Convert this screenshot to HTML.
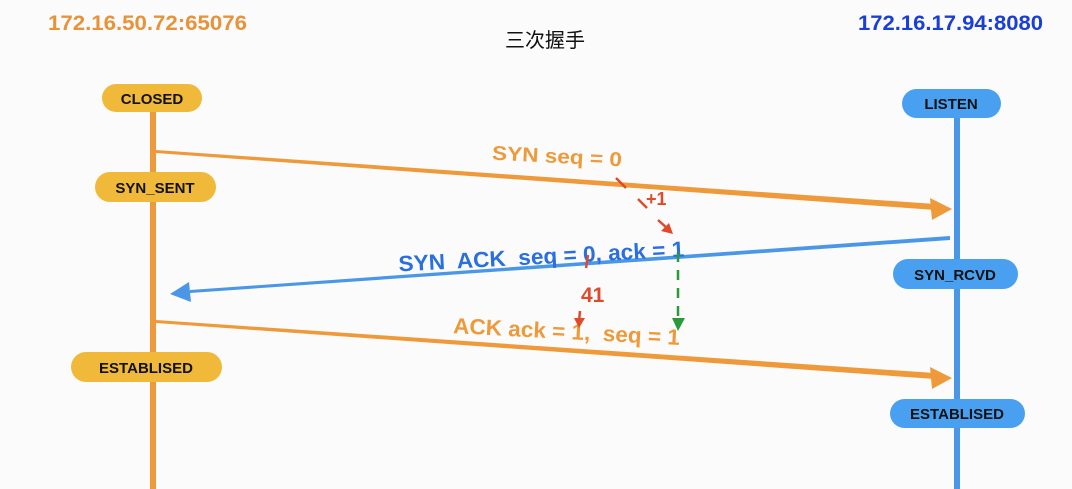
<!DOCTYPE html>
<html><head><meta charset="utf-8"><style>
html,body{margin:0;padding:0;background:#fbfbfb;width:1072px;height:489px;overflow:hidden}
svg{display:block}
text{font-family:"Liberation Sans","Noto Sans CJK SC",sans-serif;font-weight:bold}
</style></head><body>
<svg width="1072" height="489" viewBox="0 0 1072 489">
<rect width="1072" height="489" fill="#fbfbfb"/>
<text x="48" y="30" font-size="21" fill="#e8923a" font-weight="normal" textLength="199" lengthAdjust="spacingAndGlyphs">172.16.50.72:65076</text>
<text x="858" y="30" font-size="21" fill="#1a3fd8" font-weight="normal" textLength="185" lengthAdjust="spacingAndGlyphs">172.16.17.94:8080</text>
<text x="505" y="47" font-size="20" fill="#111" style="font-family:'Noto Sans CJK SC',sans-serif;font-weight:normal">三次握手</text>
<rect x="150" y="112" width="6" height="377" fill="#ee9a3a"/>
<rect x="954" y="116" width="6" height="373" fill="#4a97e8"/>
<polygon points="156,150 935,204 935,210 156,153" fill="#ee9a3a"/>
<polygon points="930,198 952,209 932,220" fill="#ee9a3a"/>
<polygon points="950,236 190,290 190,293 950,240" fill="#4a97e8"/>
<polygon points="170,294 189,282 191,302" fill="#4a97e8"/>
<polygon points="156,320 935,373 935,379 156,323" fill="#ee9a3a"/>
<polygon points="930,367 952,378 932,389" fill="#ee9a3a"/>
<rect x="102" y="84" width="100" height="28" rx="14" fill="#f0b93a"/>
<text x="152" y="104" font-size="15" fill="#111" text-anchor="middle">CLOSED</text>
<rect x="95" y="172" width="121" height="30" rx="15" fill="#f0b93a"/>
<text x="155" y="193" font-size="15" fill="#111" text-anchor="middle">SYN_SENT</text>
<rect x="71" y="352" width="151" height="30" rx="15" fill="#f0b93a"/>
<text x="146" y="373" font-size="15" fill="#111" text-anchor="middle">ESTABLISED</text>
<rect x="902" y="89" width="99" height="29" rx="14.5" fill="#4aa0f0"/>
<text x="951" y="109" font-size="15" fill="#111" text-anchor="middle">LISTEN</text>
<rect x="893" y="259" width="125" height="30" rx="15" fill="#4aa0f0"/>
<text x="955" y="280" font-size="15" fill="#111" text-anchor="middle">SYN_RCVD</text>
<rect x="890" y="399" width="135" height="29" rx="14.5" fill="#4aa0f0"/>
<text x="957" y="419" font-size="15" fill="#111" text-anchor="middle">ESTABLISED</text>
<text x="492" y="163" font-size="20" fill="#ee9a3a" transform="rotate(3 557 157)" textLength="130" lengthAdjust="spacingAndGlyphs">SYN seq = 0</text>
<text x="398" y="264" font-size="22" fill="#2a6fe0" transform="rotate(-3 540 250)" xml:space="preserve" textLength="286" lengthAdjust="spacingAndGlyphs">SYN  ACK  seq = 0, ack = 1</text>
<text x="453" y="339" font-size="22" fill="#ee9a3a" transform="rotate(3 566 333)" xml:space="preserve" textLength="227" lengthAdjust="spacingAndGlyphs">ACK ack = 1,  seq = 1</text>
<g stroke="#e04a2a" stroke-width="2.5" fill="#e04a2a">
<line x1="616" y1="178" x2="626" y2="188"/>
<line x1="638" y1="199" x2="647" y2="208"/>
<line x1="658" y1="220" x2="668" y2="229"/>
<polygon points="673,234 661,231 669,223" stroke="none"/>
<line x1="588" y1="255" x2="586" y2="268"/>
<line x1="580" y1="311" x2="579" y2="321"/>
<polygon points="574,318 585,318 579,328" stroke="none"/>
</g>
<text x="646" y="205" font-size="18" fill="#e04a2a" font-weight="normal">+1</text>
<text x="581" y="302" font-size="21" fill="#e04a2a" font-weight="normal">41</text>
<line x1="678" y1="252" x2="678" y2="322" stroke="#2a9a3a" stroke-width="2.5" stroke-dasharray="10,8"/>
<polygon points="672,318 685,318 678,331" fill="#2a9a3a"/>
</svg>
</body></html>
